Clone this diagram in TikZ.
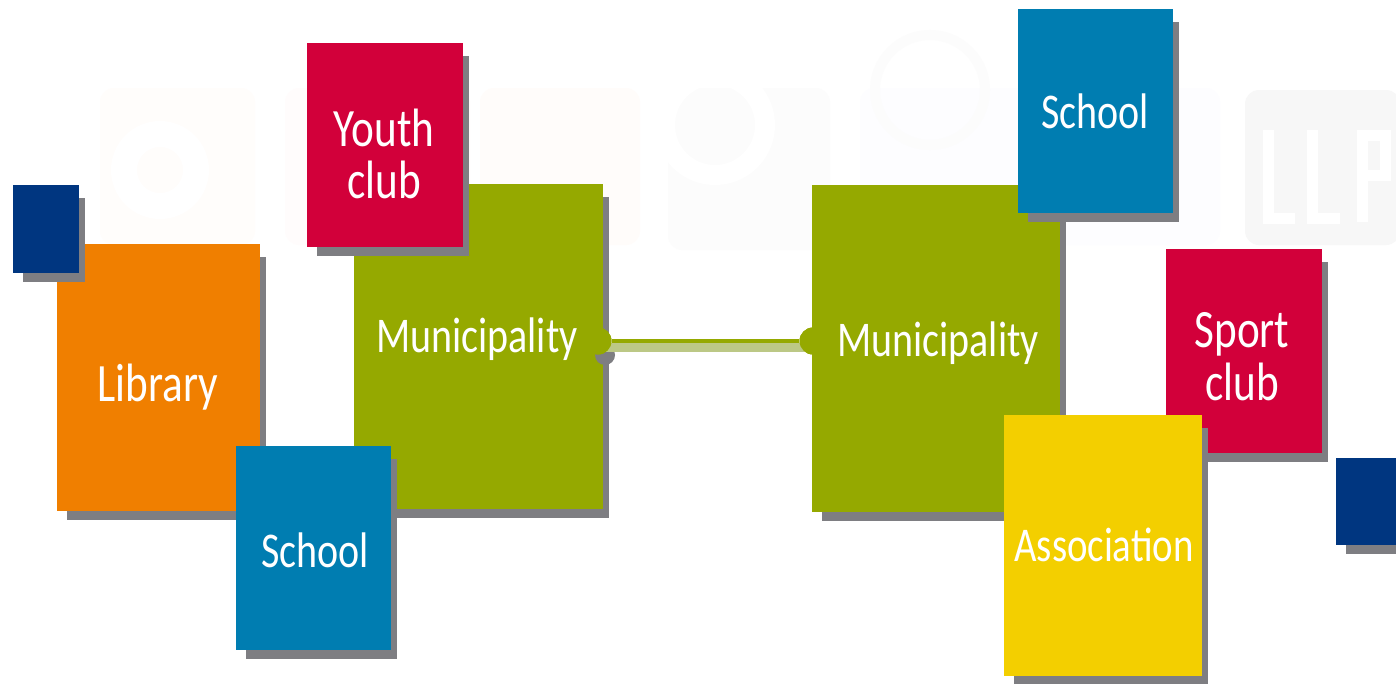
\documentclass[tikz,border=0pt]{standalone}
\usepackage{fontspec}
\setmainfont[FakeStretch=0.8]{Carlito}
\definecolor{cgreen}{HTML}{95A900}
\definecolor{cgreenl}{HTML}{BCC886}
\definecolor{cred}{HTML}{D2003A}
\definecolor{cblue}{HTML}{007DB1}
\definecolor{cnavy}{HTML}{003680}
\definecolor{corange}{HTML}{F07F00}
\definecolor{cyellow}{HTML}{F3CF00}
\definecolor{cshadow}{HTML}{7E7E82}
\tikzset{
  cardbox/.style={shape=rectangle,inner sep=0pt,outer sep=0pt},
  cardtext/.style={text=white,font=\fontsize{50}{54}\selectfont,inner sep=0pt,align=center},
  cardbig/.style={cardtext,font=\fontsize{54}{58}\selectfont},
  cardsmall/.style={cardtext,font=\fontsize{48.5}{52}\selectfont},
  wm/.style={rounded corners=14pt},
  wmglyph/.style={white,line width=11pt},
}
% name, x0, y0, x1, y1, colour
\newcommand{\cardmake}[6]{%
  \pgfmathsetmacro{\cw}{#4-#2}\pgfmathsetmacro{\ch}{#5-#3}%
  \pgfmathsetmacro{\cx}{(#4+#2)/2}\pgfmathsetmacro{\cy}{(#5+#3)/2}%
  \fill[cshadow] (#2+10,#3+13) rectangle (#4+6,#5+9);%
  \node[cardbox,fill=#6,minimum width=\cw pt,minimum height=\ch pt] (#1) at (\cx,\cy) {};%
}
\begin{document}
\begin{tikzpicture}[x=1pt,y=-1pt]
\useasboundingbox (0,0) rectangle (1396,683);
\clip (0,0) rectangle (1396,683);
\fill[white] (0,0) rectangle (1396,683);
% faint watermark
\fill[wm,fill=orange!1.5] (100,88) rectangle (255,245);
\fill[wm,fill=red!1] (285,88) rectangle (470,245);
\fill[wm,fill=orange!2] (480,88) rectangle (640,245);
\fill[wm,fill=black!1] (668,88) rectangle (830,250);
\fill[wm,fill=blue!0.6] (860,88) rectangle (1220,245);
\fill[wm,fill=black!3] (1245,90) rectangle (1400,245);
\draw[white,line width=26pt] (160,170) circle (36);
\draw[white,line width=20pt] (715,125) circle (50);
\draw[black!1,line width=10pt] (930,90) circle (55);
\draw[wmglyph] (1268,130) -- (1268,218) -- (1295,218);
\draw[wmglyph] (1312,130) -- (1312,218) -- (1340,218);
\draw[wmglyph] (1362,222) -- (1362,135) -- (1385,135) -- (1385,175) -- (1362,175);
\cardmake{lib}{57}{244}{260}{511}{corange}
\cardmake{navyl}{13}{185}{79}{273}{cnavy}
\cardmake{munl}{354}{184}{603}{509}{cgreen}
\cardmake{youth}{307}{43}{463}{247}{cred}
\cardmake{schl}{236}{446}{391}{650}{cblue}
\cardmake{munr}{812}{185}{1060}{512}{cgreen}
\cardmake{schr}{1018}{9}{1173}{213}{cblue}
\cardmake{sport}{1166}{249}{1322}{453}{cred}
\cardmake{assoc}{1004}{415}{1202}{676}{cyellow}
\cardmake{navyr}{1336}{458}{1420}{545}{cnavy}
% connector
\fill[cshadow] (605,355) circle (10);
\node[circle,fill=cgreen,minimum size=27pt,inner sep=0pt] (dotl) at (598,341) {};
\node[circle,fill=cgreen,minimum size=27pt,inner sep=0pt] (dotr) at (813,341) {};
\draw[cgreenl,line width=9pt] ([yshift=-6.5pt]dotl.center) -- ([yshift=-6.5pt]dotr.center);
\draw[cgreen,line width=4.5pt] (dotl) -- (dotr);
\fill[cgreen] (598,341) circle (13.5);
\fill[cgreen] (813,341) circle (13.5);
% labels
\node[cardbig] (tlib) at (158,387) {Library};
\node[cardtext] (tmunl) at (477,339) {Municipality};
\node[cardbig] (tyouth) at (384,128) {Youth};
\node[cardbig] (tclub) at (384,180) {club};
\node[cardtext] (tschl) at (315,550) {School};
\node[cardtext] (tmunr) at (938,343) {Municipality};
\node[cardtext] (tschr) at (1095,111) {School};
\node[cardbig] (tsport) at (1242,334) {Sport};
\node[cardbig] (tclub2) at (1242,382) {club};
\node[cardsmall] (tassoc) at (1104,545) {Association};
\end{tikzpicture}
\end{document}
